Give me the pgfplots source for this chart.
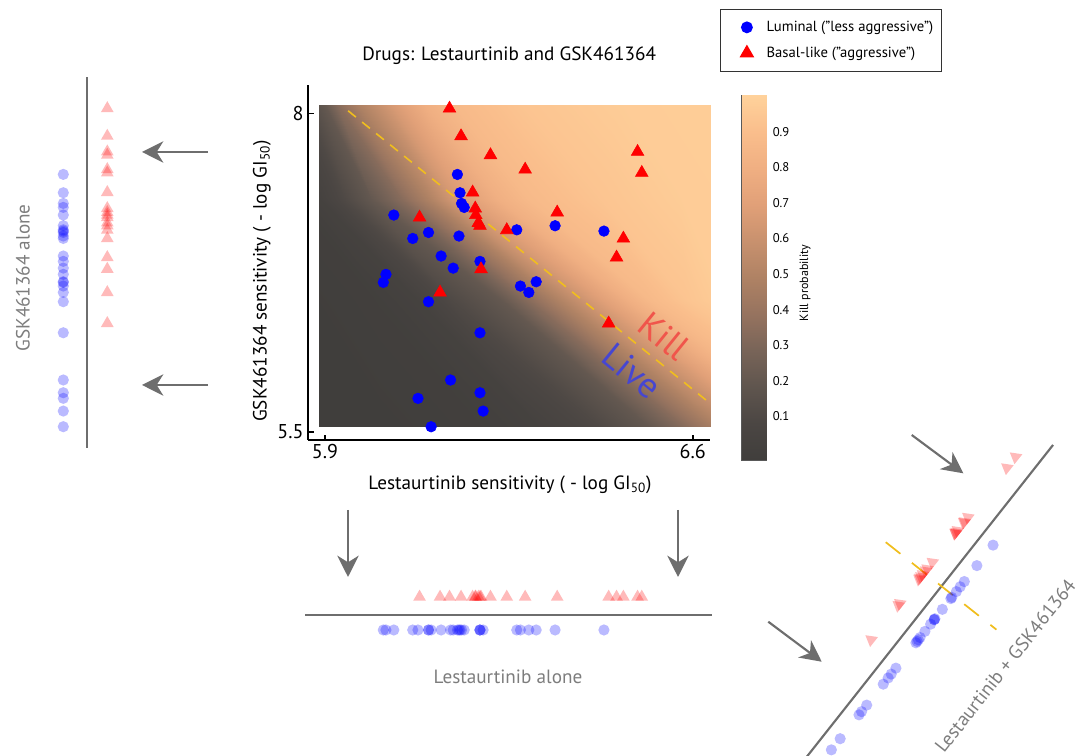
\documentclass[border=0pt]{standalone}
\usepackage{fontspec}
\setmainfont{PT Sans}
\usepackage{pgfplots}
\usepackage{pgfplotstable}
\pgfplotsset{compat=1.18}
\usetikzlibrary{arrows.meta}
\definecolor{arrowgray}{RGB}{110,110,110}
\definecolor{labgray}{RGB}{125,125,125}
\definecolor{dashyel}{RGB}{240,190,30}
\definecolor{killred}{RGB}{240,85,75}
\definecolor{liveblue}{RGB}{70,70,210}
\pgfplotsset{colormap={killmap}{rgb255(0)=(64,62,60) rgb255(1)=(75,70,67) rgb255(2)=(95,85,78) rgb255(3)=(120,100,88) rgb255(4)=(150,115,95) rgb255(5)=(175,130,100) rgb255(6)=(200,145,110) rgb255(7)=(225,160,120) rgb255(8)=(240,175,130) rgb255(9)=(250,190,140) rgb255(10)=(255,210,155)}}
\pgfplotsset{mylegmark/.style={legend image code/.code={\path (0cm,0cm) (1.0cm,0cm); \draw[##1] plot coordinates {(0.55cm,0cm)};}}}

% Luminal: x = Lestaurtinib, y = GSK461364, t = position along the combined axis
\pgfplotstableread{
x y t
6.152 7.521 146.8
6.157 7.377 134.0
6.160 7.293 126.6
6.165 7.262 125.1
6.031 7.202 75.5
6.097 7.065 83.3
6.067 7.018 68.8
6.155 7.037 99.4
6.265 7.086 140.1
6.338 7.118 167.1
6.431 7.076 193.2
6.121 6.880 72.6
6.144 6.785 70.6
6.195 6.838 92.5
6.016 6.736 24.0
6.011 6.673 16.1
6.272 6.644 98.2
6.302 6.678 111.4
6.288 6.594 98.4
6.097 6.521 28.9
6.195 6.277 36.5
6.139 5.906 -18.9
6.077 5.762 -53.4
6.195 5.806 -10.6
6.201 5.662 -23.0
6.102 5.539 -67.6
}\bluedata

% Basal-like
\pgfplotstableread{
x y t
6.137 8.039 193.7
6.159 7.822 179.1
6.215 7.673 182.5
6.281 7.560 192.7
6.495 7.699 276.3
6.503 7.534 262.4
6.181 7.380 142.1
6.186 7.254 131.2
6.187 7.202 126.3
6.192 7.141 121.8
6.195 7.118 120.5
6.080 7.183 89.6
6.246 7.084 133.7
6.342 7.223 178.9
6.468 7.018 199.4
6.455 6.869 180.3
6.197 6.777 87.1
6.119 6.594 43.4
6.440 6.351 123.7
}\reddata

\begin{document}
\begin{tikzpicture}
\useasboundingbox (0,0) rectangle (809.25pt,567pt);

% ---------- heat map (kill probability), contour lines as mesh rows ----------
\begin{axis}[
  at={(239.83pt,247.02pt)}, anchor=south west,
  x=393.975pt, y=95.475pt,
  xmin=5.89, xmax=6.633, ymin=5.54, ymax=8.065,
  hide axis, clip=true,
  colormap name=killmap, point meta min=0, point meta max=1,
]
\addplot[surf, shader=interp, mesh/cols=4, point meta=explicit]
  table[meta index=2] {
x y m
5.4000 8.065 0
5.4000 7.319 0
5.4000 6.533 0
5.4000 5.54 0
5.5669 8.065 0
5.6620 7.319 0
5.8524 6.533 0
6.0047 5.54 0
5.7572 8.065 0.02
5.8524 7.319 0.02
6.0047 6.533 0.02
6.2141 5.54 0.02
5.8143 8.065 0.05
5.8924 7.319 0.05
6.0770 6.533 0.05
6.3093 5.54 0.05
5.8619 8.065 0.12
5.9381 7.319 0.12
6.1399 6.533 0.12
6.4235 5.54 0.12
5.9000 8.065 0.22
5.9895 7.319 0.22
6.2350 6.533 0.22
6.5187 5.54 0.22
5.9247 8.065 0.35
6.0466 7.319 0.35
6.2865 6.533 0.35
6.5853 5.54 0.35
5.9666 8.065 0.5
6.0999 7.319 0.5
6.3436 6.533 0.5
6.6520 5.54 0.5
6.0237 8.065 0.65
6.1475 7.319 0.65
6.4045 6.533 0.65
6.7281 5.54 0.65
6.0904 8.065 0.8
6.2293 7.319 0.8
6.4768 6.533 0.8
6.8042 5.54 0.8
6.1475 8.065 0.87
6.2903 7.319 0.87
6.5187 6.533 0.87
6.8614 5.54 0.87
6.2712 8.065 0.93
6.4235 7.319 0.93
6.5853 6.533 0.93
6.9375 5.54 0.93
6.4616 8.065 0.97
6.5758 7.319 0.97
6.6520 6.533 0.97
7.0327 5.54 0.97
7.3753 8.065 1
7.3753 7.319 1
7.3753 6.533 1
7.3753 5.54 1
};
\end{axis}

% ---------- main scatter ----------
\begin{axis}[
  at={(231.15pt,237pt)}, anchor=south west,
  x=393.975pt, y=95.475pt,
  xmin=5.868, xmax=6.633, ymin=5.435, ymax=8.22,
  axis x line*=bottom, axis y line*=left,
  axis line style={line width=1.4pt, black},
  xtick={5.9,6.6}, ytick={5.5,8},
  tick align=inside, major tick length=4pt,
  tick style={line width=1.2pt, black},
  /pgf/number format/assume math mode=true,
  tick label style={font=\fontsize{15}{17}\selectfont},
  xlabel={Lestaurtinib sensitivity ( - log GI\textsubscript{50})},
  ylabel={GSK461364 sensitivity ( - log GI\textsubscript{50})},
  title={Drugs: Lestaurtinib and GSK461364},
  label style={font=\fontsize{14.4}{17}\selectfont},
  title style={font=\fontsize{14.4}{17}\selectfont, at={(axis description cs:0.5,1.0625)}, anchor=center},
  xlabel style={at={(axis description cs:0.502,-0.127)}, anchor=center},
  ylabel style={at={(axis description cs:-0.115,0.448)}, anchor=center},
  clip=false,
  legend style={at={(1.025,1.217)}, anchor=north west, draw=black!80, line width=0.9pt,
    fill=white, font=\fontsize{11}{13}\selectfont, inner xsep=4pt, inner ysep=7pt,
    row sep=6pt, cells={anchor=west}},
]
\addplot[forget plot, dashyel, line width=1.2pt, dash pattern=on 7.5pt off 6pt]
  coordinates {(5.944,8.021) (6.633,5.723)};
\addplot[draw=none, mark=*, mark size=4pt, mark options={draw=blue, fill=blue}, mylegmark]
  table[x=x,y=y] {\bluedata};
\addlegendentry{Luminal (”less aggressive”)}
\addplot[draw=none, mark=triangle*, mark size=5.5pt, mark options={draw=red, fill=red}, mylegmark]
  table[x=x,y=y] {\reddata};
\addlegendentry{Basal-like (”aggressive”)}
\node[rotate=-39, text=killred, font=\fontsize{27}{30}\selectfont] at (axis cs:6.545,6.250) {Kill};
\node[rotate=-39, text=liveblue, font=\fontsize{27}{30}\selectfont] at (axis cs:6.484,5.978) {Live};
\end{axis}

% ---------- colour bar ----------
\begin{axis}[
  at={(556.3pt,222pt)}, anchor=south west,
  scale only axis, width=18.75pt, height=273.75pt,
  xmin=0, xmax=1, ymin=-0.022, ymax=1.003,
  colormap name=killmap, point meta min=0, point meta max=1,
  axis line style={draw=black!65, line width=0.6pt},
  xtick=\empty, ytick={0.1,0.2,...,0.9},
  ytick pos=both, yticklabel pos=right, tick align=inside,
  major tick length=2.5pt, tick style={black!70, line width=0.5pt},
  /pgf/number format/assume math mode=true,
  yticklabel style={font=\fontsize{9.5}{11}\selectfont, xshift=1pt},
  ylabel={Kill probability},
  ylabel style={font=\fontsize{9}{11}\selectfont, at={(axis description cs:2.53,0.485)}, anchor=center, rotate=0},
]
\addplot[surf, shader=interp, mesh/cols=2, point meta=y]
  table {
x y
0 -0.022
1 -0.022
0 1.003
1 1.003
};
\end{axis}

% ---------- GSK461364 alone ----------
\begin{axis}[
  at={(35.475pt,214.6pt)}, anchor=south west,
  x=0.75pt, y=95.475pt,
  xmin=-40, xmax=40, ymin=5.2, ymax=8.4,
  hide axis, clip=false,
]
\addplot[arrowgray, line width=1.6pt] coordinates {(0,5.372) (0,8.288)};
\addplot[only marks, mark=*, mark size=4.2pt, color=blue, mark options={draw opacity=0, fill opacity=0.27}]
  table[x expr=-24, y=y] {\bluedata};
\addplot[only marks, mark=triangle*, mark size=5.5pt, color=red, mark options={draw opacity=0, fill opacity=0.27}]
  table[x expr=20, y=y] {\reddata};
\end{axis}
\node[rotate=90, text=labgray, font=\fontsize{14.4}{17}\selectfont] at (17.25pt,358.5pt) {GSK461364 alone};

% ---------- Lestaurtinib alone ----------
\begin{axis}[
  at={(204.35pt,75.75pt)}, anchor=south west,
  x=393.975pt, y=0.75pt,
  xmin=5.8, xmax=6.7, ymin=-40, ymax=40,
  hide axis, clip=false,
]
\addplot[arrowgray, line width=1.6pt] coordinates {(5.862,0) (6.636,0)};
\addplot[only marks, mark=*, mark size=4.2pt, color=blue, mark options={draw opacity=0, fill opacity=0.27}]
  table[x=x, y expr=-15] {\bluedata};
\addplot[only marks, mark=triangle*, mark size=5.5pt, color=red, mark options={draw opacity=0, fill opacity=0.27}]
  table[x=x, y expr=18] {\reddata};
\end{axis}
\node[text=labgray, font=\fontsize{14.4}{17}\selectfont] at (381pt,59.25pt) {Lestaurtinib alone};

% ---------- Lestaurtinib + GSK461364 (projection on the combined direction) ----------
\begin{axis}[
  at={(646.125pt,51.375pt)}, anchor=origin,
  x={(0.465pt,0.58875pt)}, y={(-0.58875pt,0.465pt)},
  xmin=-100, xmax=320, ymin=-120, ymax=100,
  hide axis, clip=false,
]
\addplot[arrowgray, line width=1.6pt] coordinates {(-90,0) (309,0)};
\addplot[dashyel, line width=1.3pt, dash pattern=on 14pt off 11pt] coordinates {(129,71) (129,-70)};
\addplot[only marks, mark=*, mark size=4.2pt, color=blue, mark options={draw opacity=0, fill opacity=0.27}]
  table[x=t, y expr=-15] {\bluedata};
\addplot[only marks, mark=triangle*, mark size=5.5pt, color=red,
  mark options={draw opacity=0, fill opacity=0.27, rotate=51.7}]
  table[x=t, y expr=22] {\reddata};
\node[rotate=51.7, text=labgray, font=\fontsize{14.4}{17}\selectfont] at (axis cs:106,-99.2) {Lestaurtinib + GSK461364};
\end{axis}

% ---------- arrows ----------
\begin{scope}[arrowgray, line width=1.6pt, -{Stealth[length=16pt, width=16pt, inset=5pt]}]
\draw (156pt,453pt) -- (106.5pt,453pt);
\draw (156pt,278.25pt) -- (106.5pt,278.25pt);
\draw (261pt,184.5pt) -- (261pt,134.25pt);
\draw (508.5pt,184.5pt) -- (508.5pt,134.25pt);
\draw (683.8pt,240.75pt) -- (722.5pt,212pt);
\draw (576.2pt,100.7pt) -- (616.3pt,70.7pt);
\end{scope}
\end{tikzpicture}
\end{document}
